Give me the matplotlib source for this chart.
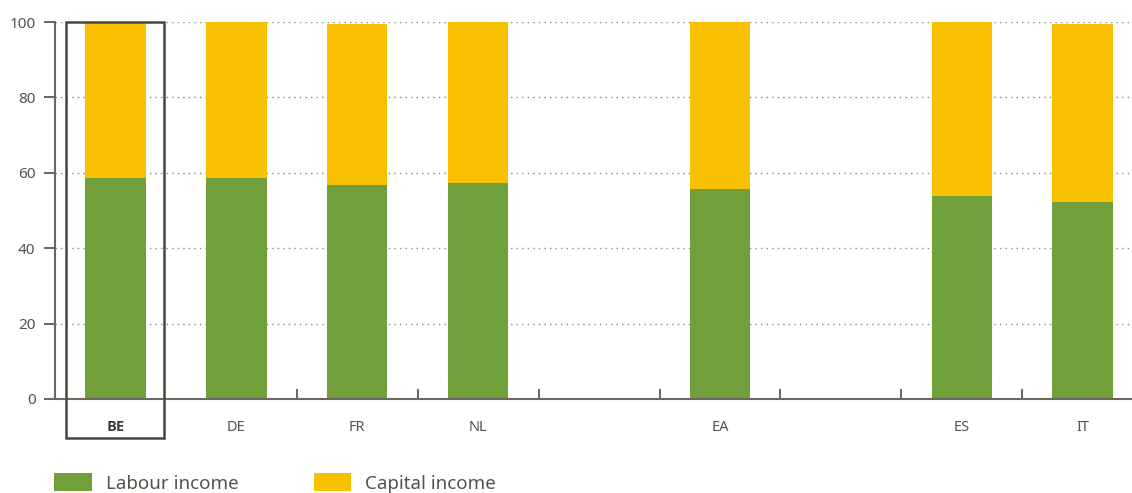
import numpy as np
import matplotlib
matplotlib.use("Agg")
import matplotlib.pyplot as plt
from matplotlib.patches import Rectangle, Patch

plt.rcParams["font.family"] = ["Noto Sans", "DejaVu Sans"]

# slots on the x axis, blanks are empty spacer slots
countries = ["BE", "DE", "FR", "NL", "", "EA", "", "ES", "IT"]
labour = [58.6, 58.6, 56.8, 57.3, np.nan, 55.7, np.nan, 53.8, 52.3]
capital = [41.4, 41.4, 42.8, 42.7, np.nan, 44.3, np.nan, 46.2, 47.3]
yticks = [0, 20, 40, 60, 80, 100]

green = "#71a03a"
yellow = "#f9c000"
txt = "#55524a"

W, H = 1132, 493
fig = plt.figure(figsize=(W / 100, H / 100), dpi=100)
ax = fig.add_axes([55 / W, 94 / H, (W - 55) / W, 377 / H])

x = np.arange(len(countries))
lab = np.nan_to_num(labour)
cap = np.nan_to_num(capital)
ax.bar(x, lab, width=0.5, color=green, zorder=2)
ax.bar(x, cap, width=0.5, bottom=lab, color=yellow, zorder=2)

slot_px = 120.9
ax.set_xlim(-0.5, (W - 55) / slot_px - 0.5)
ax.set_ylim(0, 100)

ax.set_yticks(yticks)
ax.yaxis.grid(True, linestyle=(0, (1, 3)), color="#888888", linewidth=1)
ax.set_axisbelow(True)
ax.tick_params(axis="y", direction="out", length=8, width=1.2, color="#4d4a42",
               labelcolor=txt, labelsize=11, pad=6)

ax.set_xticks(x)
ax.set_xticklabels(countries)
ax.tick_params(axis="x", which="major", length=0, pad=15, labelcolor=txt,
               labelsize=10.5)
ax.set_xticks(np.arange(1.5, 8, 1.0), minor=True)
ax.tick_params(axis="x", which="minor", direction="in", length=7.5,
               width=1.2, color="#4d4a42")

for s in ["top", "right"]:
    ax.spines[s].set_visible(False)
for s in ["left", "bottom"]:
    ax.spines[s].set_color("#6b675e")
    ax.spines[s].set_linewidth(1.5)

# highlight box around BE
ax.add_patch(Rectangle((-0.409, -10.3), 0.808, 110.3, fill=False,
                       edgecolor="#4a463c", linewidth=1.8, clip_on=False,
                       zorder=5))

handles = [Patch(facecolor=green, label="Labour income"),
           Patch(facecolor=yellow, label="Capital income")]
fig.legend(handles=handles, loc="center left", bbox_to_anchor=(45 / W, 10 / H),
           ncol=2, frameon=False, fontsize=13.5, handlelength=2.0,
           handleheight=1.1, handletextpad=0.75, columnspacing=4.0,
           labelcolor=txt, borderpad=0)

fig.canvas.draw()
be = ax.get_xticklabels()[0]
be.set_fontfamily(["Open Sans", "DejaVu Sans"])
be.set_fontweight("bold")
be.set_color("#3f3c35")

fig.savefig("out.png", dpi=100)
